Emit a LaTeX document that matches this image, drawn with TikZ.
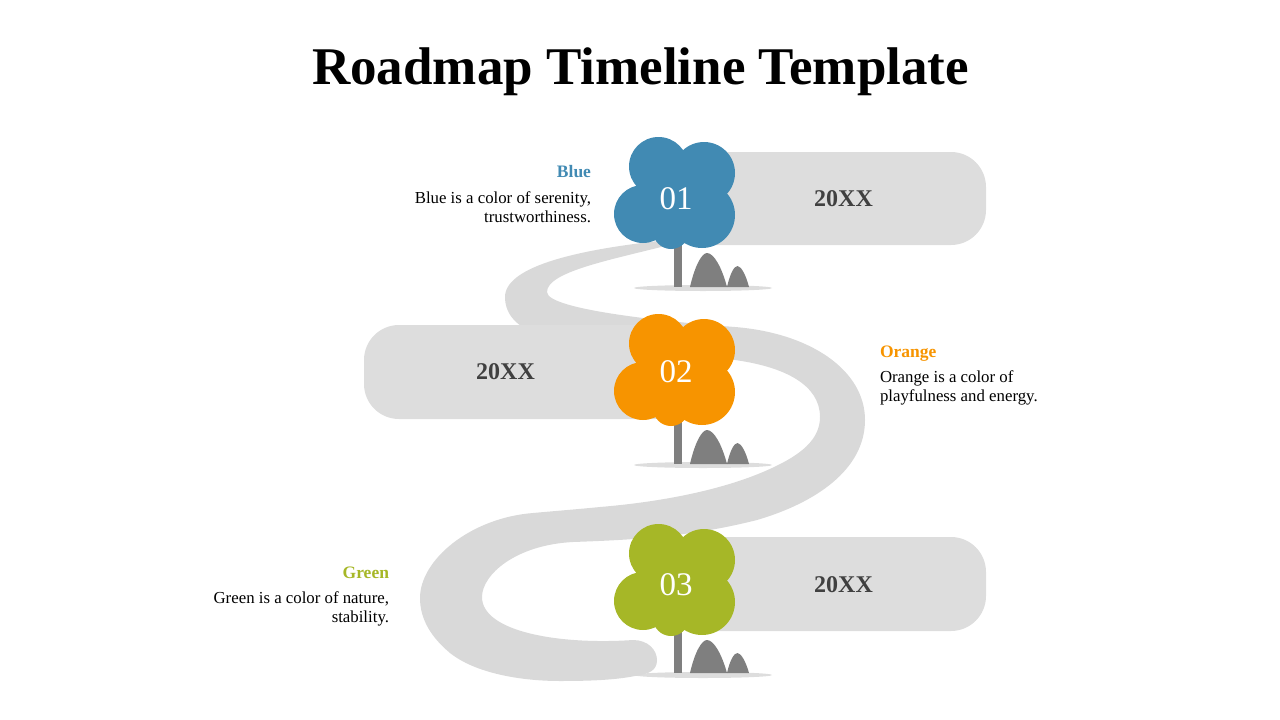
\documentclass[tikz,border=0pt]{standalone}
\usepackage{fontspec}
\setmainfont{Liberation Serif}
\definecolor{bluetree}{HTML}{418AB3}
\definecolor{orangetree}{HTML}{F79400}
\definecolor{greentree}{HTML}{A6B727}
\definecolor{roadgray}{HTML}{D9D9D9}
\definecolor{boxgray}{HTML}{DDDDDD}
\definecolor{hillgray}{HTML}{7F7F7F}
\definecolor{yeargray}{HTML}{404040}
\begin{document}
\begin{tikzpicture}[x=1pt,y=-1pt,every node/.style={inner sep=0pt,outer sep=0pt},
  year/.style={font=\fontsize{24}{24}\selectfont\bfseries,text=yeargray},
  number/.style={font=\fontsize{33}{33}\selectfont,text=white},
  head/.style={font=\fontsize{17.5}{17.5}\selectfont\bfseries},
  body/.style={font=\fontsize{16.8}{18.2}\selectfont,text=black},
  hill/.style={fill=hillgray},
  ground/.style={fill=boxgray},
  band/.style={fill=boxgray,rounded corners=35pt}]
  \useasboundingbox (0,0) rectangle (1280,720);
  \node (title) at (640.5,72) {\fontsize{53}{53}\selectfont\bfseries Roadmap Timeline Template};
  %ground under the trees
  \fill[ground] (703,288) ellipse (69pt and 3pt);
  \fill[ground] (703,465) ellipse (69pt and 3pt);
  \fill[ground] (703,675) ellipse (69pt and 3pt);
  %road
  \fill[roadgray] (668,240) .. controls (600,247) and (505,262) .. (505,297)
    .. controls (505,315) and (518,327) .. (535,333)
    .. controls (590,345) and (690,350) .. (735,360)
    .. controls (785,367) and (820,385) .. (820,417)
    .. controls (820,440) and (800,455) .. (772,468)
    .. controls (725,490) and (660,502) .. (600,507)
    .. controls (580,509) and (555,511) .. (533,513)
    .. controls (470,518) and (420,560) .. (420,598)
    .. controls (420,620) and (432,638) .. (450,653)
    .. controls (475,673) and (520,681) .. (560,681)
    .. controls (590,681) and (615,680) .. (635,676)
    .. controls (650,674) and (657,670) .. (657,660)
    .. controls (657,650) and (648,640) .. (633,640)
    .. controls (560,645) and (482,632) .. (482,597)
    .. controls (482,575) and (515,545) .. (573,542)
    .. controls (630,540) and (690,537) .. (757,520)
    .. controls (815,503) and (865,470) .. (865,420)
    .. controls (865,370) and (810,333) .. (735,327)
    .. controls (670,322) and (547,310) .. (547,292)
    .. controls (547,272) and (610,260) .. (665,246) -- cycle;
  %bands
  \fill[band] (660,152) -- (986,152) -- (986,245) -- (660,245) -- cycle;
  \fill[band] (690,325) -- (364,325) -- (364,419) -- (690,419) -- cycle;
  \fill[band] (660,537) -- (986,537) -- (986,631) -- (660,631) -- cycle;
  \node[year] (y1) at (843.5,198.5) {20XX};
  \node[year] (y2) at (505.5,371.5) {20XX};
  \node[year] (y3) at (843.5,584.5) {20XX};
  %first tree
  \fill[hillgray] (674,235) rectangle (682,287);
  \fill[hill] (690,287) .. controls (695,265) and (702,253) .. (707,253) .. controls (714,253) and (722,268) .. (727,287) -- cycle;
  \fill[hill] (727,287) .. controls (730,274) and (734,266) .. (737.5,266) .. controls (741,266) and (746,275) .. (749,287) -- cycle;
  \fill[bluetree] (658.5,166.5) circle (29.5pt) (704,173) circle (31pt) (643,214) circle (29pt) (702,215) circle (33pt) (671,231) circle (18pt) (675,195) circle (30pt);
  \node[number] (1) at (676,199) {01};
  %second tree
  \fill[hillgray] (674,412) rectangle (682,464);
  \fill[hill] (690,464) .. controls (695,442) and (702,430) .. (707,430) .. controls (714,430) and (722,445) .. (727,464) -- cycle;
  \fill[hill] (727,464) .. controls (730,451) and (734,443) .. (737.5,443) .. controls (741,443) and (746,452) .. (749,464) -- cycle;
  \fill[orangetree] (658.5,343.5) circle (29.5pt) (704,350) circle (31pt) (643,391) circle (29pt) (702,392) circle (33pt) (671,408) circle (18pt) (675,372) circle (30pt);
  \node[number] (2) at (676,372) {02};
  %third tree
  \fill[hillgray] (674,622) rectangle (682,673);
  \fill[hill] (690,673) .. controls (695,651) and (702,640) .. (707,640) .. controls (714,640) and (722,655) .. (727,673) -- cycle;
  \fill[hill] (727,673) .. controls (730,660) and (734,653) .. (737.5,653) .. controls (741,653) and (746,662) .. (749,673) -- cycle;
  \fill[greentree] (658.5,553.5) circle (29.5pt) (704,560) circle (31pt) (643,601) circle (29pt) (702,602) circle (33pt) (671,618) circle (18pt) (675,582) circle (30pt);
  \node[number] (3) at (676,585) {03};
  %texts
  \node[head,text=bluetree,anchor=east] (h1) at (591,171.5) {Blue};
  \node[body,anchor=north east,align=right] (t1) at (591,192) {Blue is a color of serenity,\\trustworthiness.};
  \node[head,text=orangetree,anchor=west] (h2) at (880,353.5) {Orange};
  \node[body,anchor=north west,align=left] (t2) at (880,371) {Orange is a color of\\playfulness and energy.};
  \node[head,text=greentree,anchor=east] (h3) at (389,572.5) {Green};
  \node[body,anchor=north east,align=right] (t3) at (389,592) {Green is a color of nature,\\stability.};
\end{tikzpicture}
\end{document}
